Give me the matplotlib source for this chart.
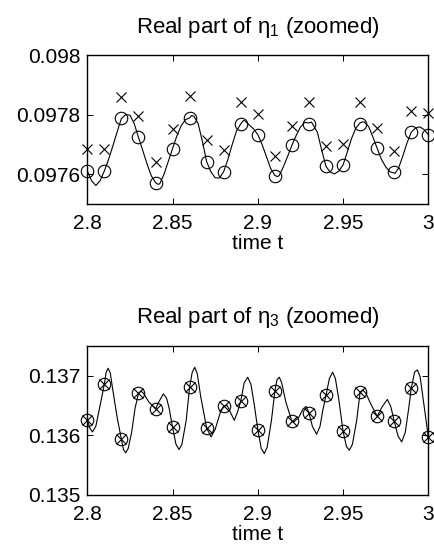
import matplotlib
matplotlib.use("Agg")
import matplotlib.pyplot as plt

plt.rcParams['font.family'] = ['Liberation Sans', 'DejaVu Sans']
plt.rcParams['mathtext.fontset'] = 'custom'
plt.rcParams['mathtext.rm'] = 'Liberation Sans'
plt.rcParams['mathtext.it'] = 'Liberation Sans'

# Sample times of the markers
t_marks = [2.80, 2.81, 2.82, 2.83, 2.84, 2.85, 2.86, 2.87, 2.88, 2.89, 2.90,
           2.91, 2.92, 2.93, 2.94, 2.95, 2.96, 2.97, 2.98, 2.99, 3.00]

# eta_1: two marker series
eta1_circ = [0.097611, 0.097611, 0.097787, 0.097724, 0.097572, 0.097686, 0.097789,
             0.097642, 0.097609, 0.097769, 0.097733, 0.097594, 0.097697, 0.097769,
             0.097626, 0.097631, 0.097769, 0.097687, 0.097609, 0.097741, 0.097733]
eta1_cross = [0.097683, 0.097683, 0.097859, 0.097794, 0.097642, 0.097753, 0.097861,
              0.097714, 0.097680, 0.097842, 0.097802, 0.097661, 0.097763, 0.097842,
              0.097694, 0.097700, 0.097842, 0.097756, 0.097678, 0.097813, 0.097806]

# eta_1: continuous solution
eta1_t = [2.8000, 2.8025, 2.8050, 2.8075, 2.8100, 2.8125, 2.8150, 2.8175, 2.8200,
          2.8225, 2.8250, 2.8275, 2.8300, 2.8325, 2.8350, 2.8375, 2.8400, 2.8415,
          2.8425, 2.8450, 2.8475, 2.8500, 2.8525, 2.8550, 2.8575, 2.8600, 2.8612,
          2.8625, 2.8650, 2.8675, 2.8700, 2.8725, 2.8750, 2.8775, 2.8800, 2.8825,
          2.8850, 2.8875, 2.8900, 2.8915, 2.8925, 2.8950, 2.8975, 2.9000, 2.9025,
          2.9050, 2.9075, 2.9100, 2.9115, 2.9125, 2.9150, 2.9175, 2.9200, 2.9225,
          2.9250, 2.9275, 2.9300, 2.9315, 2.9350, 2.9375, 2.9400, 2.9425, 2.9450,
          2.9475, 2.9500, 2.9525, 2.9550, 2.9575, 2.9600, 2.9615, 2.9625, 2.9650,
          2.9675, 2.9700, 2.9725, 2.9750, 2.9775, 2.9805, 2.9825, 2.9850, 2.9875,
          2.9900, 2.9925, 2.9950, 2.9975, 3.0000]
eta1_v = [0.097611, 0.097578, 0.097562, 0.097578, 0.097611, 0.097650, 0.097695, 0.097742, 0.097787,
          0.097800, 0.097798, 0.097770, 0.097724, 0.097680, 0.097635, 0.097595, 0.097572, 0.097566,
          0.097568, 0.097600, 0.097643, 0.097686, 0.097728, 0.097762, 0.097783, 0.097789, 0.097797,
          0.097795, 0.097770, 0.097710, 0.097642, 0.097608, 0.097588, 0.097587, 0.097609, 0.097650,
          0.097700, 0.097745, 0.097769, 0.097780, 0.097779, 0.097765, 0.097752, 0.097733, 0.097700,
          0.097660, 0.097620, 0.097596, 0.097592, 0.097595, 0.097625, 0.097660, 0.097697, 0.097730,
          0.097758, 0.097774, 0.097772, 0.097775, 0.097740, 0.097680, 0.097626, 0.097607, 0.097601,
          0.097610, 0.097631, 0.097675, 0.097720, 0.097755, 0.097772, 0.097776, 0.097775, 0.097760,
          0.097725, 0.097687, 0.097650, 0.097625, 0.097608, 0.097603, 0.097620, 0.097660, 0.097705,
          0.097741, 0.097755, 0.097759, 0.097750, 0.097733]

# eta_3: marker series (circle and cross coincide)
eta3_marks = [0.136250, 0.136855, 0.135933, 0.136700, 0.136444, 0.136134, 0.136806,
              0.136120, 0.136489, 0.136570, 0.136094, 0.136736, 0.136236, 0.136378,
              0.136670, 0.136070, 0.136717, 0.136317, 0.136239, 0.136785, 0.135972]

# eta_3: continuous solution
eta3_t = [2.8000, 2.8015, 2.8030, 2.8050, 2.8075, 2.8100, 2.8110, 2.8122, 2.8135, 2.8150,
          2.8175, 2.8200, 2.8212, 2.8225, 2.8240, 2.8260, 2.8280, 2.8300, 2.8315, 2.8330,
          2.8360, 2.8400, 2.8420, 2.8446, 2.8465, 2.8480, 2.8500, 2.8520, 2.8538, 2.8555,
          2.8580, 2.8600, 2.8615, 2.8630, 2.8645, 2.8665, 2.8700, 2.8726, 2.8750, 2.8780,
          2.8800, 2.8820, 2.8840, 2.8862, 2.8880, 2.8900, 2.8920, 2.8941, 2.8960, 2.8980,
          2.9000, 2.9020, 2.9038, 2.9055, 2.9080, 2.9100, 2.9113, 2.9126, 2.9140, 2.9165,
          2.9200, 2.9210, 2.9240, 2.9265, 2.9283, 2.9300, 2.9320, 2.9345, 2.9365, 2.9380,
          2.9400, 2.9420, 2.9439, 2.9455, 2.9475, 2.9500, 2.9520, 2.9537, 2.9555, 2.9580,
          2.9600, 2.9615, 2.9635, 2.9660, 2.9700, 2.9730, 2.9760, 2.9780, 2.9800, 2.9822,
          2.9844, 2.9865, 2.9885, 2.9900, 2.9920, 2.9936, 2.9952, 2.9975, 3.0000]
eta3_v = [0.136250, 0.136120, 0.136056, 0.136150, 0.136500, 0.136855, 0.137050, 0.137122, 0.137040, 0.136750,
          0.136300, 0.135933, 0.135760, 0.135706, 0.135780, 0.136050, 0.136450, 0.136700, 0.136740, 0.136700,
          0.136560, 0.136444, 0.136560, 0.136694, 0.136620, 0.136450, 0.136134, 0.135850, 0.135761, 0.135850,
          0.136250, 0.136806, 0.137050, 0.137139, 0.137030, 0.136650, 0.136120, 0.135972, 0.136100, 0.136380,
          0.136489, 0.136500, 0.136380, 0.136250, 0.136380, 0.136570, 0.136880, 0.136972, 0.136850, 0.136500,
          0.136094, 0.135780, 0.135694, 0.135800, 0.136250, 0.136736, 0.136930, 0.136972, 0.136880, 0.136550,
          0.136236, 0.136220, 0.136300, 0.136440, 0.136483, 0.136378, 0.136150, 0.136017, 0.136150, 0.136400,
          0.136670, 0.136950, 0.137056, 0.136950, 0.136600, 0.136070, 0.135810, 0.135750, 0.135850, 0.136250,
          0.136717, 0.136760, 0.136700, 0.136540, 0.136317, 0.136480, 0.136600, 0.136480, 0.136239, 0.135990,
          0.135889, 0.136050, 0.136450, 0.136785, 0.137060, 0.137094, 0.136980, 0.136500, 0.135972]

x_ticks = [2.8, 2.85, 2.9, 2.95, 3.0]
x_ticklabels = ['2.8', '2.85', '2.9', '2.95', '3']
y1_ticks = [0.0976, 0.0978, 0.098]
y1_ticklabels = ['0.0976', '0.0978', '0.098']
y3_ticks = [0.135, 0.136, 0.137]
y3_ticklabels = ['0.135', '0.136', '0.137']

FS = 15
fig = plt.figure(figsize=(4.35, 5.53), dpi=100)
ax1 = fig.add_axes([0.2007, 0.6311, 0.7839, 0.2694])
ax3 = fig.add_axes([0.2007, 0.1049, 0.7839, 0.2700])

def style(ax, yt, ytl, ylim, title):
    ax.set_xlim(2.8, 3.0)
    ax.set_ylim(*ylim)
    ax.set_xticks(x_ticks)
    ax.set_xticklabels(x_ticklabels)
    ax.set_yticks(yt)
    ax.set_yticklabels(ytl)
    ax.tick_params(direction='in', length=4, width=0.7, top=True, right=True,
                   labelsize=FS, colors='black')
    ax.tick_params(axis='x', pad=7)
    ax.tick_params(axis='y', pad=5)
    for s in ax.spines.values():
        s.set_linewidth(1.0)
    ax.set_xlabel('time t', fontsize=FS, labelpad=1)
    ax.set_title(title, fontsize=16, pad=16)

ax1.plot(eta1_t, eta1_v, color='black', lw=0.8)
ax1.plot(t_marks, eta1_circ, linestyle='none', marker='o', ms=9, mfc='none',
         mec='black', mew=0.8, clip_on=False)
ax1.plot(t_marks, eta1_cross, linestyle='none', marker='x', ms=6.5,
         mec='black', mew=0.8, clip_on=False)
style(ax1, y1_ticks, y1_ticklabels, (0.0975, 0.098), r'Real part of $\eta_1$ (zoomed)')

ax3.plot(eta3_t, eta3_v, color='black', lw=0.8)
ax3.plot(t_marks, eta3_marks, linestyle='none', marker='o', ms=9, mfc='none',
         mec='black', mew=0.8, clip_on=False)
ax3.plot(t_marks, eta3_marks, linestyle='none', marker='x', ms=6.5,
         mec='black', mew=0.8, clip_on=False)
style(ax3, y3_ticks, y3_ticklabels, (0.135, 0.1375), r'Real part of $\eta_3$ (zoomed)')

fig.savefig('out.png', dpi=100)
